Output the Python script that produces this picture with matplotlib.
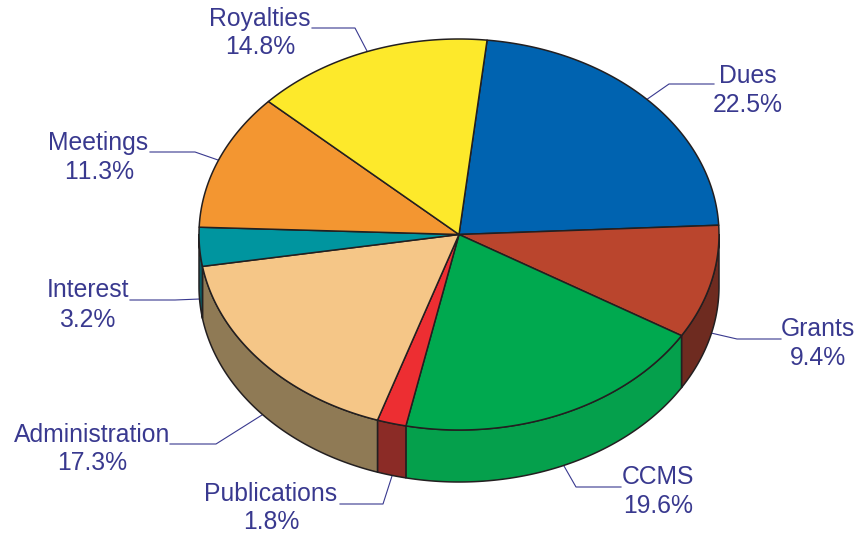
import numpy as np
import matplotlib
matplotlib.use("Agg")
import matplotlib.pyplot as plt

categories = ["Dues", "Grants", "CCMS", "Publications", "Administration", "Interest", "Meetings", "Royalties"]
shares = [22.5, 9.4, 19.6, 1.8, 17.3, 3.2, 11.3, 14.8]
top_colors = ["#0063B0", "#BA452D", "#00A94F", "#ED2E32", "#F5C687", "#00959F", "#F39631", "#FDE92B"]
side_colors = ["#004A84", "#6E2B20", "#05A04C", "#8B2B26", "#8F7A55", "#0B5F66", "#B06E22", "#BFAF20"]
name_pos = [(748, 76), (818, 329), (658, 477), (271, 494), (92, 435), (88, 290), (98, 143), (260, 19)]
pct_pos = [(748, 105), (818, 358), (658, 506), (271, 522), (92, 463), (87, 320), (99, 172), (260, 47)]
leaders = [
    [(646, 100), (669, 84), (714, 84)],
    [(711, 333), (737, 339), (781, 339)],
    [(564, 466), (576, 487), (621, 487)],
    [(392, 476), (383, 504), (340, 504)],
    [(262, 415), (216, 444), (170, 444)],
    [(200, 299), (175, 300), (130, 300)],
    [(218, 160), (195, 152), (150, 152)],
    [(367, 51), (355, 28), (312, 28)],
]

CX, CY, RX, RY, DEPTH, START = 459, 234.5, 260, 195.5, 52, 6.2
INK = "#231F20"
TEXT = "#39398F"

plt.rcParams["font.family"] = ["Liberation Sans", "DejaVu Sans"]
plt.rcParams["text.kerning_factor"] = 6
fig = plt.figure(figsize=(8.59, 5.36), dpi=100)
ax = fig.add_axes([0, 0, 1, 1])
ax.set_xlim(0, 859)
ax.set_ylim(536, 0)
ax.axis("off")


def rim(a, b, dy=0.0):
    t = np.radians(np.linspace(a, b, max(int(abs(b - a) * 2), 2)))
    return CX + RX * np.sin(t), CY - RY * np.cos(t) + dy


# the printed shares add up to 99.9, so normalise to close the circle
edges = START + np.concatenate([[0], np.cumsum(shares)]) / np.sum(shares) * 360

# side walls: only the front half of the rim (90..270 degrees) is visible
for i, c in enumerate(side_colors):
    a, b = max(edges[i], 90), min(edges[i + 1], 270)
    if a >= b:
        continue
    x1, y1 = rim(a, b)
    x2, y2 = rim(a, b, DEPTH)
    ax.fill(np.r_[x1, x2[::-1]], np.r_[y1, y2[::-1]], facecolor=c,
            edgecolor=INK, linewidth=1.1, joinstyle="round", zorder=2)

# top face
for i, c in enumerate(top_colors):
    x, y = rim(edges[i], edges[i + 1])
    ax.fill(np.r_[CX, x], np.r_[CY, y], facecolor=c,
            edgecolor=INK, linewidth=1.1, joinstyle="round", zorder=3)

for pts in leaders:
    xs, ys = zip(*pts)
    ax.plot(xs, ys, color=TEXT, linewidth=0.8, zorder=1)

for name, share, p, q in zip(categories, shares, name_pos, pct_pos):
    ax.text(p[0], p[1], name, color=TEXT, fontsize=17.8, ha="center", va="center")
    ax.text(q[0], q[1], f"{share:.1f}%", color=TEXT, fontsize=17.8, ha="center", va="center")

fig.savefig("out.png", dpi=100, facecolor="white")
